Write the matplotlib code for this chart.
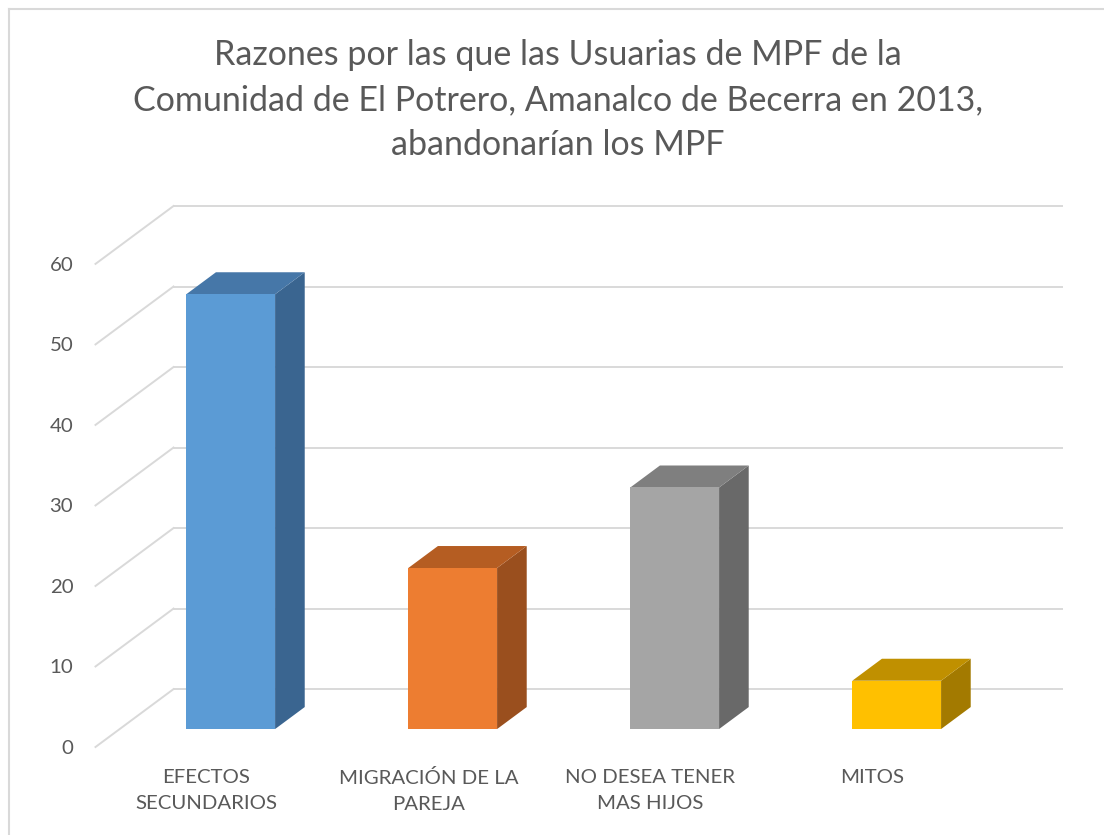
import matplotlib
matplotlib.use("Agg")
import matplotlib.pyplot as plt
from matplotlib.patches import Polygon

plt.rcParams['font.family'] = ['Lato', 'DejaVu Sans']

categories = ["EFECTOS\nSECUNDARIOS", "MIGRACIÓN DE LA\nPAREJA", "NO DESEA TENER\nMAS HIJOS", "MITOS"]
values = [54, 20, 30, 6]
front_colors = ["#5B9BD5", "#ED7D31", "#A5A5A5", "#FFC000"]
top_colors = ["#4677A8", "#B55D22", "#7F7F7F", "#C09000"]
side_colors = ["#3A6590", "#9A4F1E", "#696969", "#A37A00"]
yticks = [0, 10, 20, 30, 40, 50, 60]
title_lines = ["Razones por las que las Usuarias de MPF de la",
               "Comunidad de El Potrero, Amanalco de Becerra en 2013,",
               "abandonarían los MPF"]

# oblique "3d" look: depth shift in data units
DX = 0.3514
DY = 7.19
bar_w = 0.40
d0, d1 = 0.31, 0.69   # bar depth range (0 = front, 1 = back wall)
grid_c = "#D9D9D9"
text_c = "#595959"

fig = plt.figure(figsize=(11.04, 8.35), dpi=100)
ax = fig.add_axes([95.5 / 1104, 88 / 835, 966 / 1104, 541 / 835])
ax.set_xlim(-0.5, 3.5 + DX)
ax.set_ylim(0, 60 + DY)

# walls: back gridlines and side diagonals
for v in yticks:
    ax.plot([-0.5 + DX, 3.5 + DX], [v + DY, v + DY], color=grid_c, lw=1.4, zorder=1, clip_on=False)
    ax.plot([-0.5, -0.5 + DX], [v, v + DY], color=grid_c, lw=1.4, zorder=1, clip_on=False)

def pt(x, v, d):
    return (x + d * DX, v + d * DY)

for i, v in enumerate(values):
    l, r = i - bar_w / 2, i + bar_w / 2
    front = [pt(l, 0, d0), pt(r, 0, d0), pt(r, v, d0), pt(l, v, d0)]
    top = [pt(l, v, d0), pt(r, v, d0), pt(r, v, d1), pt(l, v, d1)]
    side = [pt(r, 0, d0), pt(r, 0, d1), pt(r, v, d1), pt(r, v, d0)]
    ax.add_patch(Polygon(side, closed=True, fc=side_colors[i], ec="none", zorder=3, clip_on=False))
    ax.add_patch(Polygon(top, closed=True, fc=top_colors[i], ec="none", zorder=3, clip_on=False))
    ax.add_patch(Polygon(front, closed=True, fc=front_colors[i], ec="none", zorder=4, clip_on=False))

ax.set_yticks(yticks)
ax.set_yticklabels([str(t) for t in yticks], fontsize=14.7, color=text_c)
ax.set_xticks(range(len(categories)))
ax.set_xticklabels(categories, fontsize=14.7, color=text_c, linespacing=1.65)
ax.tick_params(length=0)
ax.tick_params(axis='y', pad=16)
ax.tick_params(axis='x', pad=16)
for s in ax.spines.values():
    s.set_visible(False)
ax.set_facecolor("none")

for k, line in enumerate(title_lines):
    fig.text(558 / 1104, 1 - (65 + 45 * k) / 835, line, ha='center', va='baseline',
             fontsize=24.5, color=text_c)

# chart area border
fig.add_artist(plt.Line2D([8.5 / 1104, 8.5 / 1104], [0, 1 - 9 / 835], color=grid_c, lw=1.5))
fig.add_artist(plt.Line2D([8.5 / 1104, 1], [1 - 9 / 835, 1 - 9 / 835], color=grid_c, lw=1.5))

fig.savefig("out.png", dpi=100)
